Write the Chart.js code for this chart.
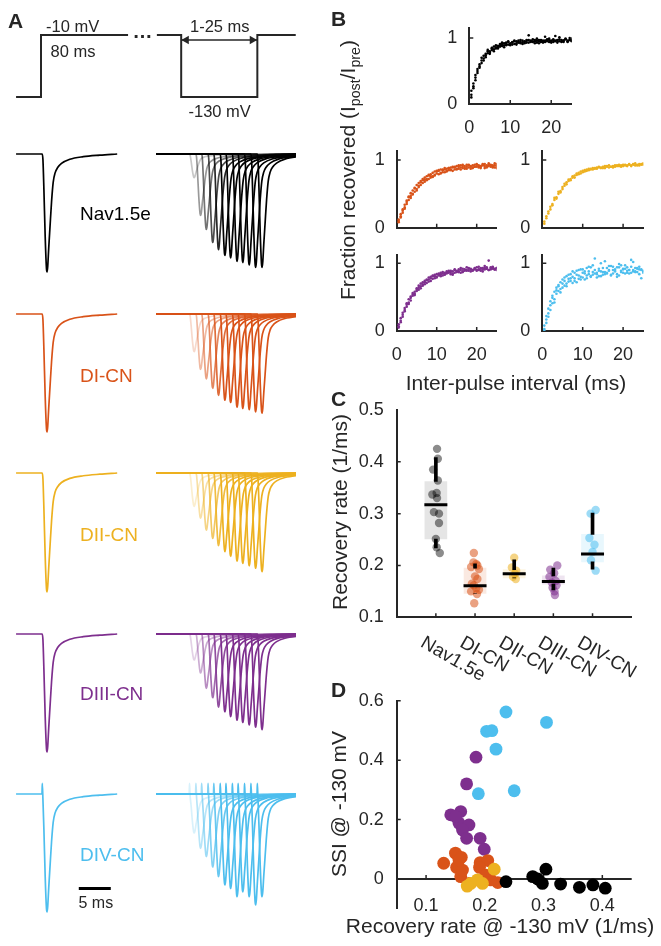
<!DOCTYPE html>
<html>
<head>
<meta charset="utf-8">
<script src="https://cdn.jsdelivr.net/npm/chart.js@4.4.1/dist/chart.umd.min.js"></script>
<style>
  body { margin: 0; background: #fff; }
  #fig { position: relative; width: 661px; height: 946px; overflow: hidden;
         font-family: "Liberation Sans", Arial, Helvetica, sans-serif; }
  #fig canvas { position: absolute; left: 0; top: 0; }
  .t { position: absolute; white-space: nowrap; line-height: 1; }
  .s { font-size: 0.68em; position: relative; top: 0.32em; }
</style>
</head>
<body>
<div id="fig"></div>
<script>
// ---------- data ----------
// A: voltage protocol (schematic), ms / mV
const protoT1 = [-4.1, -0.2, -0.2, 13.4];
const protoV1 = [-130, -130, -10, -10];
const protoT2 = [17.9, 21.7, 21.7, 33.6, 33.6, 39.6];
const protoV2 = [-10, -10, -130, -130, -10, -10];
const gapT = [21.7, 33.6];
const arrowHeadT = [22.5, 32.8];
const gapV = -19.7;

// A: current waveform (ms after step, normalised to peak)
const tplT = [0, 0.1, 0.25, 0.45, 0.65, 0.75, 0.85, 1.0, 1.2, 1.45, 1.7, 2.0, 2.4, 3.0, 4.3, 6.4, 9.0, 12.0, 20.0];
const tplI = [0, -0.05, -0.3, -0.7, -0.97, -1.0, -0.95, -0.8, -0.62, -0.4, -0.24, -0.16, -0.115, -0.08, -0.045, -0.023, -0.01, 0, 0];
const leftWindow = [-4.1, 11.7];
const rightWindow = [17.8, 39.6];
const testOnsets = [23.0, 24.0, 24.9, 25.9, 26.8, 27.8, 28.7, 29.7, 30.6, 31.6, 32.6, 33.6];

const constructs = ['Nav1.5e', 'DI-CN', 'DII-CN', 'DIII-CN', 'DIV-CN'];
const ampNav  = [0.20, 0.52, 0.64, 0.75, 0.81, 0.86, 0.88, 0.91, 0.92, 0.94, 0.96, 0.96];
const ampDI   = [0.32, 0.47, 0.55, 0.63, 0.69, 0.73, 0.75, 0.79, 0.80, 0.81, 0.83, 0.84];
const ampDII  = [0.28, 0.38, 0.48, 0.55, 0.61, 0.66, 0.70, 0.74, 0.76, 0.78, 0.80, 0.83];
const ampDIII = [0.22, 0.33, 0.46, 0.54, 0.62, 0.66, 0.70, 0.73, 0.75, 0.77, 0.79, 0.81];
const ampDIV  = [0.33, 0.46, 0.53, 0.62, 0.70, 0.77, 0.80, 0.87, 0.83, 0.87, 0.94, 0.87];
const testAmps = [ampNav, ampDI, ampDII, ampDIII, ampDIV];
const artifact = [0, 0, 0, 0, 0.09];
const scaleBarT = [5.7, 10.7];
const scaleBarI = -0.8;

// B: fraction recovered vs inter-pulse interval (ms), several cells per construct
const ipi = [0.5,1,1.5,2,2.5,3,3.5,4,4.5,5,5.5,6,6.5,7,7.5,8,8.5,9,9.5,10,10.5,11,11.5,12,12.5,
             13,13.5,14,14.5,15,15.5,16,16.5,17,17.5,18,18.5,19,19.5,20,20.5,21,21.5,22,22.5,23,23.5,24,24.5,25];
const recNav = [
  [0.14,0.27,0.40,0.47,0.60,0.66,0.69,0.76,0.77,0.80,0.84,0.83,0.86,0.88,0.87,0.91,0.89,0.93,0.90,0.92,0.94,0.91,0.95,0.93,0.92,0.96,0.94,0.93,0.97,0.95,0.94,0.92,0.96,0.95,0.97,0.93,0.96,0.98,0.94,0.95,0.97,0.96,0.93,0.98,0.95,0.96,0.99,0.94,0.97,0.96],
  [0.20,0.31,0.36,0.53,0.57,0.62,0.73,0.71,0.80,0.78,0.82,0.87,0.84,0.86,0.91,0.88,0.92,0.89,0.94,0.91,0.90,0.95,0.92,0.96,0.94,0.91,0.95,0.97,0.93,0.96,0.98,0.95,0.93,0.97,0.94,0.96,1.02,0.95,0.97,0.93,0.98,0.95,0.97,1.01,0.94,0.96,0.98,0.95,0.97,0.99],
  [0.10,0.24,0.44,0.50,0.55,0.70,0.66,0.74,0.82,0.76,0.85,0.80,0.89,0.84,0.88,0.93,0.86,0.91,0.95,0.89,0.93,0.96,0.90,0.94,0.97,0.93,0.92,0.96,1.04,0.94,0.95,0.97,0.99,0.92,0.96,0.95,0.94,0.97,0.99,0.96,0.94,1.03,0.96,0.95,0.97,0.94,0.98,0.96,1.00,0.95]
];
const recDI = [
  [0.12,0.15,0.27,0.28,0.40,0.45,0.44,0.55,0.53,0.63,0.60,0.69,0.66,0.74,0.70,0.78,0.74,0.81,0.77,0.84,0.79,0.86,0.82,0.88,0.83,0.85,0.89,0.84,0.90,0.87,0.92,0.86,0.91,0.88,0.93,0.89,0.87,0.92,0.90,0.94,0.89,0.91,0.93,0.88,0.92,0.95,0.90,0.92,0.89,0.94],
  [0.08,0.20,0.22,0.34,0.35,0.41,0.51,0.49,0.59,0.57,0.66,0.63,0.72,0.68,0.76,0.72,0.79,0.76,0.83,0.80,0.85,0.81,0.86,0.82,0.87,0.88,0.85,0.89,0.86,0.91,0.87,0.92,0.88,0.91,0.87,0.93,0.90,0.89,0.93,0.90,0.92,0.88,0.94,0.91,0.89,0.93,0.92,0.90,0.95,0.91],
  [0.10,0.17,0.25,0.30,0.38,0.46,0.47,0.50,0.58,0.55,0.62,0.67,0.70,0.71,0.72,0.77,0.76,0.75,0.78,0.83,0.84,0.80,0.85,0.86,0.84,0.88,0.86,0.90,0.89,0.86,0.90,0.89,0.93,0.87,0.90,0.92,0.91,0.88,0.90,0.93,0.91,0.90,0.92,0.94,0.90,0.91,0.93,0.89,0.92,0.88]
];
const recDII = [
  [0.06,0.14,0.24,0.27,0.35,0.41,0.45,0.50,0.54,0.60,0.62,0.67,0.69,0.72,0.74,0.77,0.78,0.81,0.80,0.84,0.83,0.86,0.85,0.87,0.86,0.88,0.87,0.89,0.88,0.90,0.88,0.91,0.89,0.90,0.91,0.90,0.92,0.91,0.90,0.93,0.92,0.91,0.93,0.92,0.94,0.92,0.93,0.92,0.94,0.93],
  [0.09,0.17,0.21,0.31,0.33,0.44,0.43,0.53,0.52,0.57,0.65,0.64,0.71,0.70,0.76,0.74,0.80,0.79,0.83,0.82,0.85,0.84,0.87,0.86,0.88,0.87,0.89,0.90,0.89,0.88,0.91,0.90,0.92,0.90,0.89,0.92,0.91,0.93,0.92,0.91,0.93,0.92,0.94,0.91,0.93,0.95,0.92,0.94,0.93,0.95]
];
const recDIII = [
  [0.07,0.15,0.24,0.29,0.36,0.42,0.49,0.52,0.58,0.59,0.64,0.66,0.69,0.72,0.71,0.76,0.78,0.77,0.81,0.80,0.83,0.84,0.82,0.86,0.85,0.87,0.84,0.88,0.86,0.89,0.87,0.90,0.88,0.91,0.89,0.92,0.88,0.90,0.93,0.90,0.91,0.89,0.93,0.91,0.94,0.90,0.92,0.95,0.91,0.93],
  [0.10,0.19,0.21,0.34,0.39,0.47,0.45,0.56,0.55,0.63,0.61,0.70,0.67,0.74,0.76,0.73,0.80,0.81,0.78,0.84,0.82,0.86,0.85,0.84,0.88,0.86,0.89,0.85,0.90,0.88,0.91,0.86,0.92,0.89,0.90,0.93,0.91,0.89,0.92,0.94,0.90,0.93,0.91,0.96,0.92,0.90,0.94,0.92,0.91,0.93],
  [0.05,0.13,0.27,0.31,0.41,0.40,0.51,0.54,0.53,0.61,0.67,0.63,0.72,0.69,0.75,0.79,0.74,0.82,0.83,0.79,0.85,0.81,0.87,0.83,0.86,0.89,0.87,0.83,0.91,0.87,0.88,0.93,0.87,0.90,0.94,0.89,0.92,0.90,0.91,0.89,0.95,0.92,0.88,0.93,0.92,1.04,0.91,0.94,0.92,0.90]
];
const recDIV = [
  [0.03,0.22,0.26,0.44,0.41,0.58,0.55,0.68,0.72,0.64,0.79,0.70,0.83,0.74,0.88,0.78,0.72,0.90,0.80,0.86,0.76,0.93,0.84,0.81,0.97,0.85,0.79,0.92,0.88,0.83,1.03,0.86,0.90,0.82,0.95,0.89,0.84,0.99,0.87,0.91,0.85,0.94,0.90,0.86,1.02,0.88,0.92,0.84,0.91,0.89],
  [0.08,0.12,0.33,0.31,0.52,0.47,0.64,0.59,0.62,0.76,0.67,0.81,0.73,0.78,0.71,0.86,0.83,0.77,0.91,0.79,0.88,0.82,0.95,0.80,0.87,1.07,0.84,0.89,0.81,0.93,0.87,0.85,0.96,0.83,0.90,0.88,0.94,0.82,0.97,0.86,0.92,0.89,0.85,0.95,0.90,0.87,0.93,0.91,0.78,0.86],
  [0.01,0.17,0.21,0.38,0.49,0.42,0.60,0.66,0.57,0.70,0.74,0.66,0.77,0.84,0.80,0.74,0.89,0.82,0.76,0.91,0.85,0.78,0.88,0.94,0.83,0.90,0.86,0.81,1.00,0.87,0.84,0.93,0.89,0.96,0.85,0.91,0.80,0.94,0.89,0.92,0.97,0.86,0.90,1.05,0.88,0.93,0.87,0.95,0.90,0.88]
];
const recAll = [recNav, recDI, recDII, recDIII, recDIV];
const bTicksX = [0, 10, 20];
const bTicksY = [0, 1];

// C: recovery rate (1/ms) per cell, box statistics
const rateNav  = [0.425, 0.406, 0.385, 0.364, 0.340, 0.337, 0.330, 0.303, 0.300, 0.282, 0.251, 0.235, 0.224];
const jitNav   = [0.03, 0.05, -0.07, 0.05, 0.02, -0.09, 0.03, -0.05, 0.08, 0.08, 0.0, 0.02, 0.1];
const rateDI   = [0.224, 0.206, 0.203, 0.200, 0.197, 0.193, 0.179, 0.174, 0.165, 0.162, 0.156, 0.153, 0.150, 0.145, 0.127];
const jitDI    = [-0.03, -0.04, 0.03, 0.06, -0.1, 0.1, 0.0, 0.06, -0.08, -0.03, 0.03, 0.1, -0.1, 0.05, -0.02];
const rateDII  = [0.215, 0.196, 0.190, 0.184, 0.178, 0.174];
const jitDII   = [0.0, -0.06, 0.05, 0.02, -0.03, 0.04];
const rateDIII = [0.200, 0.192, 0.185, 0.178, 0.170, 0.167, 0.162, 0.157, 0.150, 0.143];
const jitDIII  = [0.1, -0.08, 0.02, -0.1, 0.06, -0.04, 0.08, -0.02, 0.03, 0.04];
const rateDIV  = [0.307, 0.300, 0.253, 0.240, 0.226, 0.210, 0.190];
const jitDIV   = [0.08, -0.05, -0.08, 0.05, 0.0, -0.04, 0.08];
const rates = [rateNav, rateDI, rateDII, rateDIII, rateDIV];
const jitters = [jitNav, jitDI, jitDII, jitDIII, jitDIV];
const boxLow     = [0.251, 0.146, 0.176, 0.164, 0.207];
const boxHigh    = [0.362, 0.195, 0.192, 0.180, 0.260];
const medians    = [0.317, 0.161, 0.184, 0.169, 0.222];
const whiskerTop = [0.408, 0.203, 0.211, 0.195, 0.301];
const whiskerBot = [0.234, 0.146, 0.176, 0.153, 0.193];
const cTicksY = [0.1, 0.2, 0.3, 0.4, 0.5];

// D: SSI @ -130 mV vs recovery rate @ -130 mV
const dNavX   = [0.236, 0.2815, 0.29, 0.298, 0.304, 0.329, 0.361, 0.384, 0.405];
const dNavY   = [-0.009, 0.008, 0.0, -0.015, 0.033, -0.017, -0.028, -0.020, -0.031];
const dDIX    = [0.130, 0.150, 0.160, 0.152, 0.159, 0.162, 0.192, 0.205, 0.191, 0.202, 0.222, 0.210, 0.156, 0.173];
const dDIY    = [0.053, 0.087, 0.073, 0.039, 0.008, 0.030, 0.055, 0.062, 0.039, 0.013, -0.012, -0.003, 0.064, -0.015];
const dDIIX   = [0.216, 0.176, 0.1875, 0.196, 0.170];
const dDIIY   = [0.033, -0.015, -0.003, -0.015, -0.024];
const dDIIIX  = [0.185, 0.169, 0.142, 0.159, 0.156, 0.173, 0.162, 0.169, 0.192, 0.199, 0.150];
const dDIIIY  = [0.410, 0.320, 0.216, 0.227, 0.188, 0.182, 0.165, 0.137, 0.137, 0.100, 0.210];
const dDIVX   = [0.236, 0.203, 0.212, 0.219, 0.305, 0.189, 0.250];
const dDIVY   = [0.562, 0.497, 0.499, 0.437, 0.527, 0.287, 0.297];
const dX = [dNavX, dDIX, dDIIX, dDIIIX, dDIVX];
const dY = [dNavY, dDIY, dDIIY, dDIIIY, dDIVY];
const dTicksX = [0.1, 0.2, 0.3, 0.4];
const dTicksY = [0, 0.2, 0.4, 0.6];

// ---------- style / layout ----------
const W = 661, H = 946;
const ink = '#262626';
const family = '"Liberation Sans", Arial, Helvetica, sans-serif';
const colors = ['#000000', '#D95319', '#EDB120', '#7E2F8E', '#4DBEEE'];
const fade = [0.22, 0.4, 0.55, 0.7, 0.85, 1, 1, 1, 1, 1, 1, 1];
const rowBase = [154, 314, 473, 634, 794];
const rowPeak = [272, 432, 592, 752, 912];
const fig = document.getElementById('fig');

Chart.defaults.font.family = family;
Chart.defaults.color = ink;
Chart.defaults.animation = false;
Chart.defaults.events = [];
Chart.defaults.plugins.legend.display = false;
Chart.defaults.plugins.tooltip.enabled = false;

function rgba(hex, a) {
  const n = parseInt(hex.slice(1), 16);
  return `rgba(${n >> 16},${(n >> 8) & 255},${n & 255},${a})`;
}

// inward tick marks, MATLAB style
Chart.register({
  id: 'inTicks',
  afterDraw(chart, args, o) {
    if (!o.len) return;
    const { ctx, chartArea: a, scales } = chart;
    ctx.save();
    ctx.strokeStyle = ink; ctx.lineWidth = 1.5;
    ctx.beginPath();
    (o.x || []).forEach(v => { const p = scales.x.getPixelForValue(v); ctx.moveTo(p, a.bottom); ctx.lineTo(p, a.bottom - o.len); });
    (o.y || []).forEach(v => { const p = scales.y.getPixelForValue(v); ctx.moveTo(a.left, p); ctx.lineTo(a.left + o.len, p); });
    ctx.stroke();
    ctx.restore();
  }
});

// x axis through the origin, labels level with the bottom of the y axis (panel D)
Chart.register({
  id: 'zeroLine',
  beforeDatasetsDraw(chart, args, o) {
    if (!o.on) return;
    const { ctx, chartArea: a, scales } = chart;
    const y0 = scales.y.getPixelForValue(0);
    ctx.save();
    ctx.strokeStyle = ink; ctx.lineWidth = 2;
    ctx.beginPath(); ctx.moveTo(a.left, y0); ctx.lineTo(a.right, y0); ctx.stroke();
    ctx.lineWidth = 1.5; ctx.beginPath();
    o.ticks.forEach(v => { const p = scales.x.getPixelForValue(v); ctx.moveTo(p, y0); ctx.lineTo(p, y0 - 4); });
    ctx.stroke();
    ctx.font = `18px ${family}`; ctx.fillStyle = ink;
    ctx.textAlign = 'center'; ctx.textBaseline = 'middle';
    o.ticks.forEach(v => ctx.fillText(String(v), scales.x.getPixelForValue(v), a.bottom + o.labelDy));
    ctx.restore();
  }
});

// rotated category labels (panel C)
Chart.register({
  id: 'catLabels',
  afterDraw(chart, args, o) {
    if (!o.labels) return;
    const { ctx, chartArea: a, scales } = chart;
    ctx.save();
    ctx.font = `${o.size}px ${family}`; ctx.fillStyle = ink;
    ctx.textAlign = 'left'; ctx.textBaseline = 'top';
    o.labels.forEach((t, i) => {
      ctx.save();
      ctx.translate(scales.x.getPixelForValue(i + 1) + o.dx, a.bottom + o.dy);
      ctx.rotate(o.angle * Math.PI / 180);
      ctx.fillText(t, 0, 0);
      ctx.restore();
    });
    ctx.restore();
  }
});

function frame(box, yw, xh) {
  return { padding: { left: box.l - yw, top: box.t, right: W - box.r, bottom: H - box.b - xh } };
}

function axis(min, max, ticks, o = {}) {
  return {
    type: 'linear', min, max, offset: false,
    display: o.display !== false,
    afterBuildTicks: s => { s.ticks = ticks.map(v => ({ value: v })); },
    afterFit: s => { if (o.size != null) { if (s.isHorizontal()) s.height = o.size; else s.width = o.size; } },
    grid: { display: false, drawTicks: false },
    border: { display: o.border !== false, color: ink, width: 2 },
    ticks: { display: !!o.labels, padding: o.pad ?? 12, color: ink, font: { size: 18 }, callback: v => String(v) }
  };
}

function addChart(cfg) {
  const c = document.createElement('canvas');
  c.width = W; c.height = H;
  fig.appendChild(c);
  cfg.options.responsive = false;
  new Chart(c, cfg);
}

function txt(html, x, y, o = {}) {
  const d = document.createElement('div');
  d.className = 't';
  d.innerHTML = html;
  d.style.left = x + 'px'; d.style.top = y + 'px';
  d.style.fontSize = (o.size || 19) + 'px';
  d.style.color = o.color || ink;
  if (o.bold) d.style.fontWeight = 'bold';
  const ax = o.align === 'center' ? '-50%' : '0';
  d.style.transform = `translate(${ax},-50%)` + (o.rot ? ` rotate(${o.rot}deg)` : '');
  fig.appendChild(d);
}

// ---------- A: protocol ----------
const pts = (xs, ys) => xs.map((x, i) => ({ x, y: Array.isArray(ys) ? ys[i] : ys }));
addChart({
  type: 'line',
  data: { datasets: [
    { data: pts(protoT1, protoV1), borderColor: ink, borderWidth: 2, pointRadius: 0 },
    { data: pts(protoT2, protoV2), borderColor: ink, borderWidth: 2, pointRadius: 0 },
    { data: pts(gapT, gapV), borderColor: ink, borderWidth: 1.5, pointRadius: 0 },
    { data: pts(arrowHeadT, gapV), showLine: false, pointStyle: 'triangle', pointRadius: 5,
      pointRotation: [-90, 90], backgroundColor: ink, borderWidth: 0 }
  ]},
  options: {
    layout: frame({ l: 16, r: 296, t: 32.4, b: 99.6 }, 0, 0),
    scales: { x: axis(-4.11, 39.64, [], { display: false }), y: axis(-135, -5, [], { display: false }) }
  }
});

// ---------- A: current traces ----------
function trace(onset, amp, art, startT, leftOnly) {
  const out = [{ x: startT, y: 0 }, { x: onset - 0.05, y: 0 }];
  tplT.forEach((t, i) => {
    if (leftOnly && onset + t > leftWindow[1]) return;
    out.push({ x: onset + t, y: amp * tplI[i] + (i === 0 ? art : 0) });
  });
  if (leftOnly) out.push({ x: leftWindow[1], y: 0 });
  return out;
}
constructs.forEach((name, r) => {
  const col = colors[r];
  const unit = rowPeak[r] - rowBase[r];
  const ds = [{ data: trace(0, 1, artifact[r], leftWindow[0], true), borderColor: col }];
  testOnsets.forEach((on, k) => ds.push({
    data: trace(on, testAmps[r][k], artifact[r], rightWindow[0], false), borderColor: rgba(col, fade[k])
  }));
  ds.forEach(d => Object.assign(d, { borderWidth: 1.7, pointRadius: 0, cubicInterpolationMode: 'monotone' }));
  if (r === 4) ds.push({ data: pts(scaleBarT, scaleBarI), borderColor: '#000', borderWidth: 3, pointRadius: 0 });
  addChart({
    type: 'line',
    data: { datasets: ds },
    options: {
      layout: frame({ l: 16, r: 296, t: rowBase[r] - 0.12 * unit, b: rowBase[r] + 1.03 * unit }, 0, 0),
      scales: { x: axis(-4.11, 39.64, [], { display: false }), y: axis(-1.03, 0.12, [], { display: false }) }
    }
  });
});

// ---------- B: recovery curves ----------
const bBoxes = [
  { l: 469.3, r: 571.7, t: 28.1, b: 104, ymax: 1.15, lab: true, pad: 13.5 },
  { l: 396.7, r: 496.7, t: 151.2, b: 227.7, ymax: 1.13, lab: false },
  { l: 542.3, r: 643.3, t: 151.2, b: 227.7, ymax: 1.13, lab: false },
  { l: 396.7, r: 496.7, t: 254.5, b: 331, ymax: 1.13, lab: true, pad: 13.2 },
  { l: 542.3, r: 643.3, t: 254.5, b: 331, ymax: 1.13, lab: true, pad: 13.2 }
];
bBoxes.forEach((bx, r) => {
  addChart({
    type: 'scatter',
    data: { datasets: recAll[r].map(cell => ({
      data: pts(ipi, cell), backgroundColor: colors[r], pointRadius: 1.3, borderWidth: 0
    })) },
    options: {
      layout: frame(bx, 40, bx.lab ? 40 : 0),
      scales: {
        x: axis(0, 25, bTicksX, { labels: bx.lab, pad: bx.pad, size: bx.lab ? 40 : 0 }),
        y: axis(0, bx.ymax, bTicksY, { labels: true, pad: 12, size: 40 })
      },
      plugins: { inTicks: { x: [10, 20], y: [1], len: 4 } }
    }
  });
});

// ---------- C: recovery rate box plot ----------
const cDatasets = [
  { type: 'bar', data: constructs.map((c, i) => ({ x: i + 1, y: [boxLow[i], boxHigh[i]] })),
    backgroundColor: colors.map((c, i) => i === 0 ? 'rgba(0,0,0,0.1)' : rgba(c, 0.13)),
    barThickness: 22, grouped: false, order: 4 },
  { type: 'bar', data: constructs.flatMap((c, i) => [
      { x: i + 1, y: [boxHigh[i], whiskerTop[i]] }, { x: i + 1, y: [whiskerBot[i], boxLow[i]] }]),
    backgroundColor: '#000', barThickness: 3, grouped: false, order: 2 },
  { type: 'scatter', data: constructs.map((c, i) => ({ x: i + 1, y: medians[i] })),
    pointStyle: 'line', pointRadius: 11.5, borderWidth: 3, borderColor: '#000', order: 1 }
];
rates.forEach((vals, i) => cDatasets.push({
  type: 'scatter', data: vals.map((v, k) => ({ x: i + 1 + jitters[i][k], y: v })),
  backgroundColor: i === 0 ? 'rgba(0,0,0,0.45)' : rgba(colors[i], 0.55),
  pointRadius: 4.2, borderWidth: 0, order: 3
}));
addChart({
  type: 'bar',
  data: { datasets: cDatasets },
  options: {
    layout: frame({ l: 396.7, r: 631.7, t: 410, b: 617.3 }, 50, 0),
    scales: {
      x: axis(0, 6, [], { labels: false, size: 0 }),
      y: axis(0.1, 0.5, cTicksY, { labels: true, pad: 13, size: 50 })
    },
    plugins: {
      inTicks: { x: [1, 2, 3, 4, 5], y: [0.2, 0.3, 0.4], len: 4 },
      catLabels: { labels: constructs, size: 19, angle: 30, dx: -9, dy: 16 }
    }
  }
});

// ---------- D: SSI vs recovery rate ----------
const dOrder = [2, 4, 3, 5, 1];
addChart({
  type: 'scatter',
  data: { datasets: constructs.map((c, i) => ({
    data: pts(dX[i], dY[i]), backgroundColor: colors[i], pointRadius: 6.4, borderWidth: 0, order: dOrder[i]
  })) },
  options: {
    layout: frame({ l: 396.7, r: 631.7, t: 700.7, b: 908.7 }, 50, 0),
    scales: {
      x: axis(0.05, 0.45, dTicksX, { labels: false, border: false, size: 0 }),
      y: axis(-0.1, 0.6, dTicksY, { labels: true, pad: 13, size: 50 })
    },
    plugins: {
      inTicks: { y: [0.2, 0.4, 0.6], len: 4 },
      zeroLine: { on: true, ticks: dTicksX, labelDy: -2.5 }
    }
  }
});

// ---------- text ----------
txt('A', 8, 19.5, { size: 21, bold: true });
txt('-10 mV', 46, 26, { size: 16.5 });
txt('80 ms', 50.5, 50.5, { size: 16.5 });
txt('1-25 ms', 190, 25.5, { size: 16.5 });
txt('-130 mV', 188.5, 111, { size: 16.5 });
txt('&hellip;', 142.5, 30.5, { size: 20, align: 'center', bold: true });
const rowLabelY = [213, 374.5, 534, 693, 854];
constructs.forEach((n, r) => txt(n, 80, rowLabelY[r], { size: 19, color: colors[r] }));
txt('5 ms', 78.5, 903, { size: 16 });

txt('B', 331, 17.5, { size: 21, bold: true });
txt('C', 331, 397.5, { size: 21, bold: true });
txt('D', 331, 688.5, { size: 21, bold: true });
txt('Inter-pulse interval (ms)', 516, 381.5, { size: 21, align: 'center' });
txt('Fraction recovered (I<span class="s">post</span>/I<span class="s">pre</span>)', 346.5, 170, { size: 21, align: 'center', rot: -90 });
txt('Recovery rate (1/ms)', 339, 512, { size: 21, align: 'center', rot: -90 });
txt('SSI @ -130 mV', 338, 803.5, { size: 21, align: 'center', rot: -90 });
txt('Recovery rate @ -130 mV (1/ms)', 500, 925, { size: 21, align: 'center' });
</script>
</body>
</html>
